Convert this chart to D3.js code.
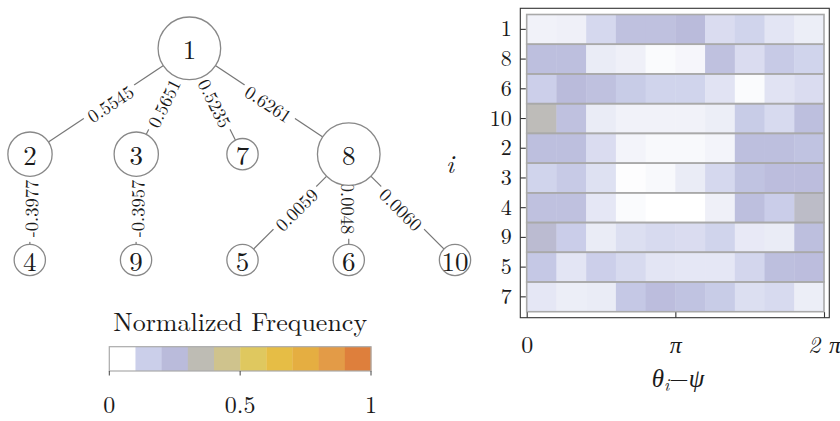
<!DOCTYPE html>
<html>
<head>
<meta charset="utf-8">
<script src="https://cdn.jsdelivr.net/npm/d3@7"></script>
<style>
  html, body { margin: 0; padding: 0; background: #ffffff; }
  svg { display: block; }
</style>
</head>
<body>
<svg id="chart" width="840" height="421"></svg>
<script>
// ---------------- DATA ----------------
// Tree (left panel)
const nodeIds     = ["1", "2", "3", "7", "8", "4", "9", "5", "6", "10"];
const nodeDepth   = [0, 1, 1, 1, 1, 2, 2, 2, 2, 2];
const nodeSlot    = [1.5, 0, 1, 2, 3, -0.002, 0.998, 2, 3, 4];
const nodeDegree  = [4, 2, 2, 1, 4, 1, 1, 1, 1, 1];
const edgeSource  = ["1", "1", "1", "1", "2", "3", "8", "8", "8"];
const edgeTarget  = ["2", "3", "7", "8", "4", "9", "5", "6", "10"];
const edgeLabels  = ["0.5545", "0.5651", "0.5235", "0.6261", "-0.3977", "-0.3957", "0.0059", "0.0048", "0.0060"];

// Colour bar
const cbTitle   = "Normalized Frequency";
const cbColors  = ["#ffffff", "#cbcfea", "#babbdb", "#bebcb4", "#cfc38d", "#dfc85f", "#e6bd45", "#e5ae41", "#e39b47", "#de7f3c"];
const cbTicks   = [0, 0.5, 1];
const cbTickLabels = ["0", "0.5", "1"];

// Heat map (right panel): rows i, 10 bins of theta_i - psi over [0, 2pi]
const rowLabels = ["1", "8", "6", "10", "2", "3", "4", "9", "5", "7"];
const freq = [
  [0.03, 0.035, 0.09, 0.19, 0.19, 0.22, 0.08, 0.10, 0.06, 0.04],
  [0.20, 0.20, 0.045, 0.035, 0.01, 0.02, 0.19, 0.08, 0.14, 0.10],
  [0.11, 0.22, 0.19, 0.13, 0.10, 0.10, 0.065, 0.01, 0.065, 0.08],
  [0.32, 0.19, 0.045, 0.03, 0.03, 0.03, 0.04, 0.13, 0.085, 0.20],
  [0.20, 0.20, 0.08, 0.025, 0.015, 0.015, 0.025, 0.20, 0.20, 0.18],
  [0.10, 0.14, 0.07, 0.005, 0.015, 0.045, 0.09, 0.18, 0.21, 0.21],
  [0.19, 0.19, 0.055, 0.01, 0.0, 0.0, 0.035, 0.20, 0.12, 0.28],
  [0.25, 0.12, 0.045, 0.075, 0.085, 0.08, 0.10, 0.05, 0.045, 0.20],
  [0.15, 0.06, 0.11, 0.085, 0.06, 0.055, 0.055, 0.095, 0.20, 0.21],
  [0.055, 0.04, 0.045, 0.15, 0.21, 0.18, 0.13, 0.075, 0.085, 0.04]
];
const xTickValues = [0, Math.PI, 2 * Math.PI];
const xTickLabels = ["0", "π", "2 π"];

// ---------------- DRAW ----------------
const FONT = "'Latin Modern Roman', 'Liberation Serif', serif";
const svg = d3.select("#chart");

const color = d3.scaleLinear()
  .domain(cbColors.map((c, i) => i / (cbColors.length - 1)))
  .range(cbColors)
  .interpolate(d3.interpolateRgb)
  .clamp(true);

// ---- Tree ----
const tx = d3.scaleLinear().domain([0, 4]).range([30, 455]);
const ty = d3.scaleLinear().domain([0, 2]).range([48.3, 260]);
const tr = d3.scaleSqrt().domain([0, 4]).range([0, 31.3]);

const nodes = nodeIds.map((id, i) => ({
  id, x: tx(nodeSlot[i]), y: ty(nodeDepth[i]), r: tr(nodeDegree[i])
}));
const byId = new Map(nodes.map(n => [n.id, n]));
const edges = edgeSource.map((s, i) => ({ s: byId.get(s), t: byId.get(edgeTarget[i]), label: edgeLabels[i] }));

const gTree = svg.append("g");
gTree.selectAll("line.edge").data(edges).join("line")
  .attr("class", "edge")
  .attr("x1", d => d.s.x).attr("y1", d => d.s.y)
  .attr("x2", d => d.t.x).attr("y2", d => d.t.y)
  .attr("stroke", "#777").attr("stroke-width", 1.2);

const lab = gTree.selectAll("g.elab").data(edges).join("g")
  .attr("class", "elab")
  .attr("transform", d => {
    const mx = (d.s.x + d.t.x) / 2, my = (d.s.y + d.t.y) / 2 + 1.5;
    let a = Math.atan2(d.t.y - d.s.y, d.t.x - d.s.x) * 180 / Math.PI;
    if (a > 90) a -= 180;
    if (a <= -90) a += 180;
    return `translate(${mx},${my}) rotate(${a})`;
  });
lab.append("text")
  .style("font-family", FONT)
  .attr("text-anchor", "middle")
  .attr("dominant-baseline", "central")
  .attr("font-size", 18.5)
  .attr("fill", "#1a1a1a")
  .text(d => d.label);
lab.each(function () {
  const g = d3.select(this);
  const bb = g.select("text").node().getBBox();
  g.insert("rect", "text")
    .attr("x", bb.x - 4.5).attr("y", bb.y + 1)
    .attr("width", bb.width + 9).attr("height", bb.height - 2)
    .attr("fill", "#ffffff");
});

const gn = gTree.selectAll("g.node").data(nodes).join("g")
  .attr("class", "node")
  .attr("transform", d => `translate(${d.x},${d.y})`);
gn.append("circle").attr("r", d => d.r)
  .attr("fill", "#ffffff").attr("stroke", "#888").attr("stroke-width", 1.3);
gn.append("text")
  .style("font-family", FONT)
  .attr("text-anchor", "middle").attr("dominant-baseline", "central")
  .attr("font-size", 27).attr("fill", "#1a1a1a")
  .text(d => d.id);

// ---- Colour bar ----
const cbx = d3.scaleLinear().domain([0, 1]).range([109.3, 371]);
const cbY = 346.7, cbH = 24.3;
const gcb = svg.append("g");
const nB = cbColors.length;
gcb.selectAll("rect.cb").data(cbColors).join("rect")
  .attr("class", "cb")
  .attr("x", (d, i) => cbx(i / nB))
  .attr("y", cbY)
  .attr("width", cbx(1 / nB) - cbx(0) + 0.3)
  .attr("height", cbH)
  .attr("fill", d => d);
gcb.append("rect")
  .attr("x", cbx(0)).attr("y", cbY).attr("width", cbx(1) - cbx(0)).attr("height", cbH)
  .attr("fill", "none").attr("stroke", "#aaa").attr("stroke-width", 1.2);
gcb.selectAll("line.cbt").data(cbTicks).join("line")
  .attr("class", "cbt")
  .attr("x1", d => cbx(d)).attr("x2", d => cbx(d))
  .attr("y1", cbY + cbH).attr("y2", cbY + cbH + 4.5)
  .attr("stroke", "#444").attr("stroke-width", 1);
gcb.selectAll("text.cbl").data(cbTicks).join("text")
  .attr("class", "cbl")
  .style("font-family", FONT)
  .attr("x", d => cbx(d)).attr("y", 413)
  .attr("text-anchor", "middle").attr("font-size", 24).attr("fill", "#1a1a1a")
  .text((d, i) => cbTickLabels[i]);
gcb.append("text")
  .style("font-family", FONT)
  .attr("x", cbx(0.5)).attr("y", 331)
  .attr("text-anchor", "middle").attr("font-size", 26).attr("fill", "#1a1a1a")
  .text(cbTitle);

// ---- Heat map ----
const frame = { x0: 520.3, x1: 829.3, y0: 8.3, y1: 317.7 };
const hx = d3.scaleLinear().domain([0, 2 * Math.PI]).range([526.7, 824]);
const hy = d3.scaleBand().domain(rowLabels).range([14.5, 311.7]);
const nCols = freq[0].length;
const binW = 2 * Math.PI / nCols;

const gh = svg.append("g");
rowLabels.forEach((r, ri) => {
  gh.selectAll(null).data(freq[ri]).join("rect")
    .attr("x", (d, ci) => hx(ci * binW))
    .attr("y", hy(r))
    .attr("width", hx(binW) - hx(0) + 0.4)
    .attr("height", hy.bandwidth())
    .attr("fill", d => color(d));
});
gh.selectAll("rect.rowb").data(rowLabels).join("rect")
  .attr("class", "rowb")
  .attr("x", hx(0)).attr("y", d => hy(d))
  .attr("width", hx(2 * Math.PI) - hx(0)).attr("height", hy.bandwidth())
  .attr("fill", "none").attr("stroke", "#a9a9a9").attr("stroke-width", 1.6);

gh.append("rect")
  .attr("x", frame.x0).attr("y", frame.y0)
  .attr("width", frame.x1 - frame.x0).attr("height", frame.y1 - frame.y0)
  .attr("fill", "none").attr("stroke", "#333").attr("stroke-width", 1.1);

// y axis
const yAxis = d3.axisLeft(hy).tickSizeInner(-5.5).tickSizeOuter(0).tickPadding(8.5);
const gy = svg.append("g").attr("transform", `translate(${frame.x0},0)`).call(yAxis);
gy.select(".domain").remove();
gy.selectAll(".tick line").attr("stroke", "#333").attr("stroke-width", 1.1);
gy.selectAll(".tick text")
  .style("font-family", FONT).attr("font-size", 22).attr("fill", "#1a1a1a");

// x axis
const xAxis = d3.axisBottom(hx).tickValues(xTickValues)
  .tickFormat((d, i) => xTickLabels[i]).tickSizeInner(-5.5).tickSizeOuter(0);
const gx = svg.append("g").attr("transform", `translate(0,${frame.y1})`).call(xAxis);
gx.select(".domain").remove();
gx.selectAll(".tick line").attr("stroke", "#333").attr("stroke-width", 1.1);
gx.selectAll(".tick text")
  .style("font-family", FONT).attr("font-size", 24).attr("fill", "#1a1a1a")
  .attr("y", 35.5).attr("dy", 0)
  .style("font-style", (d, i) => i === 0 ? "normal" : "italic");

// axis labels
const xl = svg.append("text")
  .style("font-family", FONT)
  .attr("x", 678).attr("y", 387).attr("text-anchor", "middle")
  .attr("font-size", 25).attr("fill", "#1a1a1a");
xl.append("tspan").attr("font-style", "italic").text("θ");
xl.append("tspan").attr("font-style", "italic").attr("font-size", 17).attr("dy", 4).text("i");
xl.append("tspan").attr("dy", -4).text("−");
xl.append("tspan").attr("font-style", "italic").text("ψ");

svg.append("text")
  .style("font-family", FONT)
  .attr("x", 450).attr("y", 172.5).attr("text-anchor", "middle")
  .attr("font-size", 26).attr("font-style", "italic").attr("fill", "#1a1a1a")
  .text("i");
</script>
</body>
</html>
